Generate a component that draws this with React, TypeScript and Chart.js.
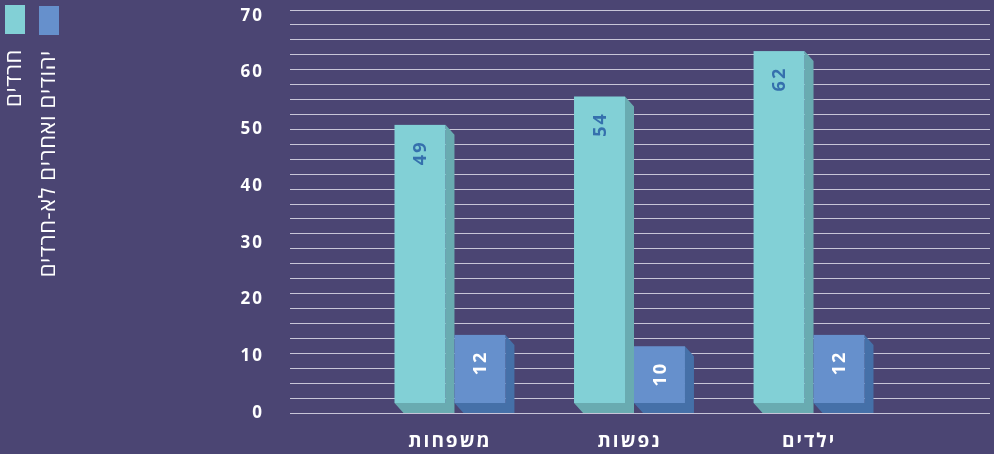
import React, { useEffect, useRef } from "react";
import { Chart, registerables } from "chart.js";

Chart.register(...registerables);

const categories = ["משפחות", "נפשות", "ילדים"];
const seriesNames = ["חרדים", "יהודים ואחרים לא-חרדים"];
const haredim = [49, 54, 62];
const others = [12, 10, 12];
const yTicks = [0, 10, 20, 30, 40, 50, 60, 70];

const BG = "#4b4573";
const FRONT = ["#82d0d6", "#6690cc"];
const SIDE = ["#69abb1", "#4570a8"];
const LABEL = ["#3570ad", "#ffffff"];
const FONT = "'Open Sans', 'Noto Sans', sans-serif";
const DX = 9;
const DY = 10;

const bars3d = {
  id: "bars3d",
  afterDatasetsDraw(chart: any) {
    const ctx = chart.ctx;
    chart.data.datasets.forEach((ds: any, di: number) => {
      const meta = chart.getDatasetMeta(di);
      meta.data.forEach((bar: any, i: number) => {
        const p = bar.getProps(["x", "y", "base", "width"], true);
        const l = p.x - p.width / 2;
        const r = p.x + p.width / 2;
        const top = p.y - DY;
        const bottom = p.base - DY;
        ctx.save();
        ctx.fillStyle = SIDE[di];
        ctx.beginPath();
        ctx.moveTo(r, top);
        ctx.lineTo(r + DX, top + DY);
        ctx.lineTo(r + DX, p.base);
        ctx.lineTo(l + DX, p.base);
        ctx.lineTo(l, bottom);
        ctx.lineTo(r, bottom);
        ctx.closePath();
        ctx.fill();
        ctx.fillStyle = FRONT[di];
        ctx.fillRect(l, top, r - l, bottom - top);
        ctx.translate(p.x + 1, top + 29);
        ctx.rotate(-Math.PI / 2);
        ctx.fillStyle = LABEL[di];
        ctx.font = `bold 18px ${FONT}`;
        ctx.textAlign = "center";
        ctx.textBaseline = "middle";
        ctx.letterSpacing = "2px";
        ctx.fillText(String(ds.data[i].y), 1, 0);
        ctx.restore();
      });
    });
  },
};

const legendVertical = {
  id: "legendVertical",
  afterDraw(chart: any) {
    const ctx = chart.ctx;
    const boxes = [
      { x: 5, y: 5 },
      { x: 39, y: 6 },
    ];
    seriesNames.forEach((name, i) => {
      const b = boxes[i];
      ctx.save();
      ctx.fillStyle = FRONT[i];
      ctx.fillRect(b.x, b.y, 20, 29);
      ctx.translate(b.x + 10, b.y + 44);
      ctx.rotate(-Math.PI / 2);
      ctx.fillStyle = "#ffffff";
      ctx.font = `22px ${FONT}`;
      ctx.textAlign = "right";
      ctx.textBaseline = "middle";
      ctx.letterSpacing = "0.6px";
      ctx.fillText(name, 0, 0);
      ctx.restore();
    });
  },
};

const spacing = {
  id: "spacing",
  beforeDraw(chart: any) {
    chart.ctx.letterSpacing = "2px";
  },
};

const zeroPad = (s: any) => {
  s.paddingTop = 0;
  s.paddingBottom = 0;
  s.paddingLeft = 0;
  s.paddingRight = 0;
};

export default function App() {
  const ref = useRef<HTMLCanvasElement>(null);
  useEffect(() => {
    if (!ref.current) return;
    const chart = new Chart(ref.current, {
      type: "bar",
      data: {
        datasets: [
          {
            label: seriesNames[0],
            data: haredim.map((v, i) => ({ x: i, y: v })),
            backgroundColor: "rgba(0,0,0,0)",
          },
          {
            label: seriesNames[1],
            data: others.map((v, i) => ({ x: i, y: v })),
            backgroundColor: "rgba(0,0,0,0)",
          },
        ],
      },
      options: {
        responsive: false,
        animation: false,
        layout: { padding: { left: 200, right: 4, top: 10, bottom: 0 } },
        plugins: { legend: { display: false }, tooltip: { enabled: false } },
        datasets: { bar: { categoryPercentage: 0.668, barPercentage: 0.85 } },
        scales: {
          x: {
            type: "linear",
            offset: false,
            min: -0.891,
            max: 3.008,
            grid: { display: false, drawTicks: false },
            border: { display: false },
            afterBuildTicks: (s: any) => {
              s.ticks = categories.map((_, i) => ({ value: i }));
            },
            afterFit: (s: any) => {
              s.height = 41;
              zeroPad(s);
            },
            ticks: {
              padding: 17,
              color: "#ffffff",
              font: { family: FONT, size: 19, weight: "bold" },
              callback: (v: any) => categories[v] ?? "",
              maxRotation: 0,
              autoSkip: false,
            },
          },
          y: {
            type: "linear",
            min: 0,
            max: 71,
            grid: { display: false, drawTicks: false },
            border: { display: false },
            afterBuildTicks: (s: any) => {
              s.ticks = yTicks.map((v) => ({ value: v }));
            },
            afterFit: (s: any) => {
              s.width = 90;
              zeroPad(s);
            },
            ticks: {
              padding: 26,
              color: "#ffffff",
              font: { family: FONT, size: 17, weight: "bold" },
            },
          },
          yg: {
            type: "linear",
            position: "right",
            min: 0,
            max: 27,
            afterFit: (s: any) => {
              s.width = 0;
              zeroPad(s);
            },
            border: { display: false },
            grid: { color: "#c8c5d8", lineWidth: 1, drawTicks: false },
            ticks: { display: false, stepSize: 1, padding: 0 },
          },
        },
      },
      plugins: [spacing, bars3d, legendVertical],
    } as any);
    return () => chart.destroy();
  }, []);
  return (
    <div
      style={{
        position: "absolute",
        left: 0,
        top: 0,
        width: 994,
        height: 454,
        background: BG,
      }}
    >
      <canvas ref={ref} width={994} height={454} style={{ display: "block" }} />
    </div>
  );
}
